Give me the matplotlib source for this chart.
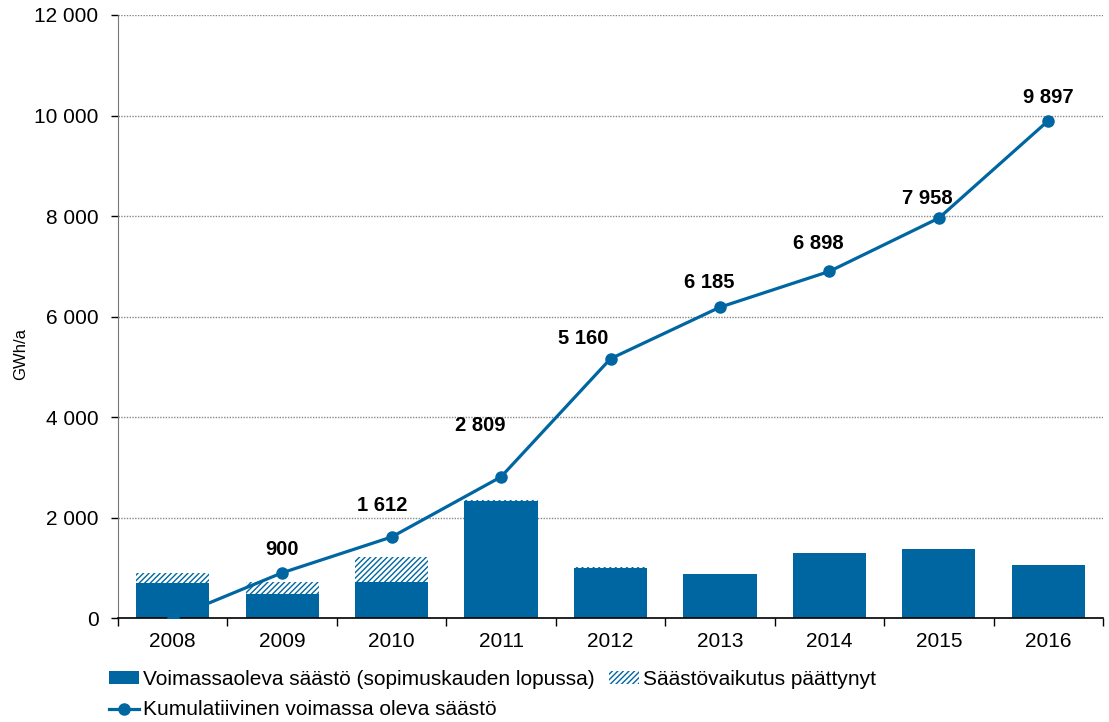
import matplotlib.pyplot as plt
import numpy as np

plt.rcParams['font.family'] = ['Liberation Sans', 'DejaVu Sans']
plt.rcParams['hatch.linewidth'] = 1.0

years = ["2008", "2009", "2010", "2011", "2012", "2013", "2014", "2015", "2016"]
voimassa = [690, 470, 720, 2330, 1000, 880, 1300, 1380, 1045]
paattynyt = [210, 245, 490, 10, 10, 5, 0, 0, 0]
kumulatiivinen = [0, 900, 1612, 2809, 5160, 6185, 6898, 7958, 9897]

# label nudges in points (x, y) so the values sit clear of the line
label_dx = [0, 0, -7, -15, -20, -8, -8, -8, 0]
label_dy = [0, 10, 16, 30, 8, 11, 13, 7, 10]

blue = "#0066a1"

fig = plt.figure(figsize=(11.09, 7.22), dpi=100)
ax = fig.add_axes([118 / 1109, 1 - 618 / 722, (1103 - 118) / 1109, (618 - 15) / 722])

x = np.arange(len(years))
b1 = ax.bar(x, voimassa, width=0.67, color=blue, zorder=2)
b2 = ax.bar(x, paattynyt, width=0.67, bottom=voimassa, facecolor="white",
            edgecolor=blue, linewidth=0, hatch="//////", zorder=2)
ln, = ax.plot(x, kumulatiivinen, color=blue, lw=2.3, marker="o", ms=8, zorder=3)

for xi, v, dx, dy in zip(x, kumulatiivinen, label_dx, label_dy):
    if v > 0:
        ax.annotate(f"{v:,}".replace(",", " "), (xi, v), xytext=(dx, dy),
                    textcoords="offset points", ha="center", va="bottom",
                    fontsize=14.5, fontweight="bold")

ax.set_xlim(-0.5, len(years) - 0.5)
ax.set_ylim(0, 12000)
ax.set_yticks(range(0, 12001, 2000))
ax.set_yticklabels([f"{v:,}".replace(",", " ") for v in range(0, 12001, 2000)])
ax.set_xticks(x)
ax.set_xticklabels(years)
ax.set_xticks(np.arange(-0.5, len(years)), minor=True)
ax.tick_params(axis="x", which="major", length=0, pad=10, labelsize=15)
ax.tick_params(axis="x", which="minor", length=6, width=1)
ax.tick_params(axis="y", length=5, width=1, pad=9, labelsize=15)
ax.yaxis.grid(True, linestyle=(0, (1, 1)), color="#888888", lw=1)
ax.set_axisbelow(True)
for s in ["top", "right"]:
    ax.spines[s].set_visible(False)
ax.spines["left"].set_color("#777777")
ax.spines["bottom"].set_linewidth(1.2)
ax.set_ylabel("GWh/a", fontsize=12)
ax.yaxis.set_label_coords((28 - 118) / 985, (618 - 354) / 603)

fig.legend([b1, ln, b2],
           ["Voimassaoleva säästö (sopimuskauden lopussa)",
            "Kumulatiivinen voimassa oleva säästö",
            "Säästövaikutus päättynyt"],
           ncol=2, loc="upper left", bbox_to_anchor=(109 / 1109, 1 - 670 / 722),
           frameon=False, fontsize=15, handlelength=1.44, handleheight=0.55,
           handletextpad=0.2, columnspacing=0.67, labelspacing=0.55,
           borderpad=0, borderaxespad=0)

fig.savefig("out.png", dpi=100)
